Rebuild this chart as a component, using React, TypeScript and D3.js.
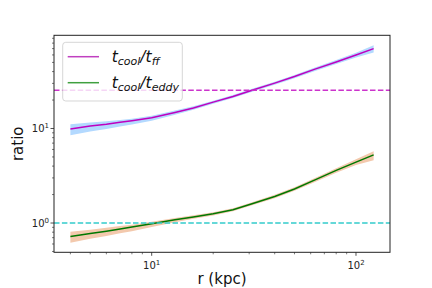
import * as d3 from 'd3'

// radius (kpc)
const radius = [4, 5, 6, 7, 8, 10, 13, 16, 20, 25, 31, 40, 50, 63, 80, 100, 122]

// t_cool / t_ff, with band
const tff = [9.9, 10.6, 11.1, 11.65, 12.1, 13.0, 14.8, 16.5, 19.0, 21.8, 25.4, 30.2, 35.5, 42.5, 50.6, 60.0, 70.0]
const tffLo = [8.5, 9.3, 9.9, 10.5, 11.0, 12.1, 14.0, 15.8, 18.3, 21.0, 24.5, 29.1, 34.1, 40.6, 48.0, 56.5, 63.5]
const tffHi = [11.1, 11.6, 11.9, 12.3, 12.7, 13.6, 15.5, 17.2, 19.7, 22.6, 26.3, 31.3, 36.9, 44.3, 53.0, 63.2, 75.9]

// t_cool / t_eddy, with band
const eddy = [0.72, 0.775, 0.82, 0.865, 0.905, 0.98, 1.08, 1.16, 1.25, 1.38, 1.6, 1.91, 2.29, 2.86, 3.6, 4.41, 5.26]
const eddyLo = [0.62, 0.68, 0.73, 0.78, 0.82, 0.91, 1.02, 1.11, 1.2, 1.33, 1.54, 1.83, 2.19, 2.72, 3.4, 4.12, 4.62]
const eddyHi = [0.81, 0.85, 0.89, 0.93, 0.96, 1.03, 1.13, 1.21, 1.3, 1.43, 1.66, 1.99, 2.39, 3.0, 3.8, 4.72, 5.75]

// reference levels
const tffLevel = 25.4
const eddyLevel = 1

const xMajor = [10, 100]
const yMajor = [1, 10]

const left = 54
const right = 390
const top = 35.3
const bottom = 252.3

const font = 'DejaVu Sans, sans-serif'

function Pow10({ x, y, exp, anchor }) {
    return (
        <text x={x} y={y} fontSize="10" fontFamily={font} fill="#222" textAnchor={anchor}>
            10
            <tspan dy="-4" fontSize="7">
                {exp}
            </tspan>
        </text>
    )
}

function Label({ x, y, sub }) {
    return (
        <text x={x} y={y} fontFamily={font} fontSize="15.5" fontStyle="italic" fill="#111">
            t
            <tspan dy="3.5" fontSize="11">
                cool
            </tspan>
            <tspan dy="-3.5">/t</tspan>
            <tspan dy="3.5" fontSize="11">
                {sub}
            </tspan>
        </text>
    )
}

export default function App() {
    const x = d3.scaleLog().domain([3.325, 146.7]).range([left, right])
    const y = d3.scaleLog().domain([0.49, 96.8]).range([bottom, top])

    const idx = radius.map((_, i) => i)

    const line = (vals) =>
        d3
            .line()
            .x((i) => x(radius[i]))
            .y((i) => y(vals[i]))(idx)

    const band = (lo, hi) =>
        d3
            .area()
            .x((i) => x(radius[i]))
            .y0((i) => y(lo[i]))
            .y1((i) => y(hi[i]))(idx)

    const xMinor = x.ticks().filter((t) => !xMajor.includes(t))
    const yMinor = y.ticks().filter((t) => !yMajor.includes(t))

    return (
        <svg width={432} height={288} style={{ position: 'absolute', left: 0, top: 0 }}>
            <rect width={432} height={288} fill="#fff" />

            <path d={band(tffLo, tffHi)} fill="#b3d9ff" />
            <path d={band(eddyLo, eddyHi)} fill="#f3c9ad" />

            <path d={line(tff)} fill="none" stroke="#bf00bf" strokeWidth="1.5" />
            <path d={line(eddy)} fill="none" stroke="#007800" strokeWidth="1.5" />

            <line x1={left} x2={right} y1={y(tffLevel)} y2={y(tffLevel)} stroke="#cc33cc" strokeWidth="1.5" strokeDasharray="5.5 2.4" />
            <line x1={left} x2={right} y1={y(eddyLevel)} y2={y(eddyLevel)} stroke="#33cccc" strokeWidth="1.5" strokeDasharray="5.5 2.4" />

            <rect x={left} y={top} width={right - left} height={bottom - top} fill="none" stroke="#222" strokeWidth="1" />

            {xMajor.map((t) => (
                <g key={'xm' + t}>
                    <line x1={x(t)} x2={x(t)} y1={bottom} y2={bottom + 3.5} stroke="#222" strokeWidth="0.8" />
                    <Pow10 x={x(t)} y={bottom + 17} exp={Math.round(Math.log10(t))} anchor="middle" />
                </g>
            ))}
            {xMinor.map((t) => (
                <line key={'xn' + t} x1={x(t)} x2={x(t)} y1={bottom} y2={bottom + 2} stroke="#222" strokeWidth="0.6" />
            ))}

            {yMajor.map((t) => (
                <g key={'ym' + t}>
                    <line x1={left - 3.5} x2={left} y1={y(t)} y2={y(t)} stroke="#222" strokeWidth="0.8" />
                    <Pow10 x={left - 5} y={y(t) + 3.5} exp={Math.round(Math.log10(t))} anchor="end" />
                </g>
            ))}
            {yMinor.map((t) => (
                <line key={'yn' + t} x1={left - 2} x2={left} y1={y(t)} y2={y(t)} stroke="#222" strokeWidth="0.6" />
            ))}

            <text x={222} y={284} textAnchor="middle" fontFamily={font} fontSize="15" fill="#111">
                r (kpc)
            </text>
            <text transform={`translate(23, ${(top + bottom) / 2}) rotate(-90)`} textAnchor="middle" fontFamily={font} fontSize="15" fill="#111">
                ratio
            </text>

            <rect x={62.7} y={42.3} width={119.6} height={58.7} rx="3" fill="#fff" fillOpacity="0.8" stroke="#ccc" strokeOpacity="0.8" />
            <line x1={67.7} x2={99} y1={56.7} y2={56.7} stroke="#c040c0" strokeWidth="1.5" />
            <Label x={111.7} y={61.7} sub="ff" />
            <line x1={67.7} x2={99} y1={82.7} y2={82.7} stroke="#40a040" strokeWidth="1.5" />
            <Label x={111.7} y={87.7} sub="eddy" />
        </svg>
    )
}
